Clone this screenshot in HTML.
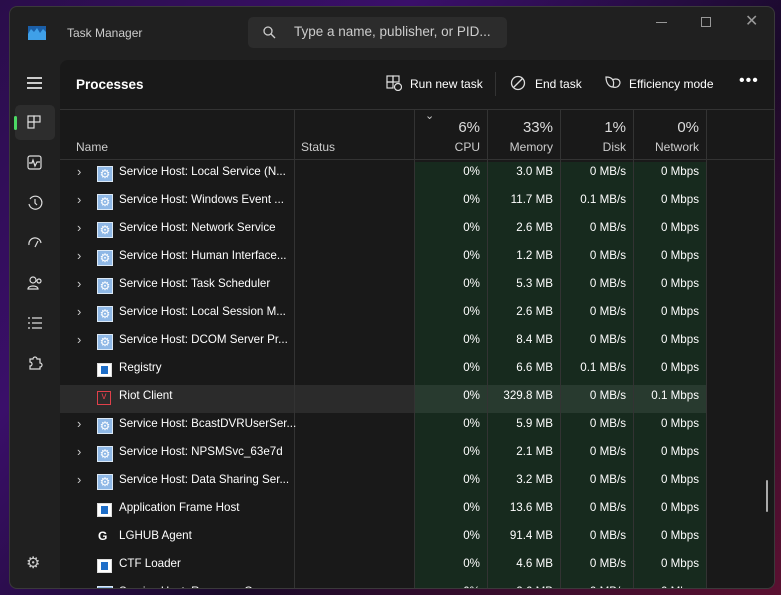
<!DOCTYPE html>
<html><head><meta charset="utf-8"><style>
*{margin:0;padding:0;box-sizing:border-box}
body{width:781px;height:595px;overflow:hidden;font-family:"Segoe UI","Liberation Sans",sans-serif;background:linear-gradient(135deg,#2a0d4a 0%,#3a0f6a 30%,#1a0a2a 60%,#5a1030 100%);position:relative;color:#fff}
.win{position:absolute;left:9px;top:6px;width:766px;height:583px;background:#202020;border-radius:8px;overflow:hidden;border:1px solid #3a3a3a}
.abs{position:absolute}
.panel{position:absolute;left:50px;top:53px;width:716px;height:540px;background:#191919;border-top-left-radius:8px}
.t{position:absolute;font-size:11.6px;white-space:nowrap}
.g{position:absolute;top:102px;height:460px;background:#172a1e}
.vl{position:absolute;width:1px;background:#333}
</style></head><body>
<div class="win">
 <svg class="abs" style="left:18px;top:19px" width="18" height="14"><rect width="18" height="14" fill="#3fa0e8"/><path d="M0 8 L3 3 L6 6 L9 2 L12 7 L15 3 L18 6 V0 H0Z" fill="#1b5fa8"/></svg>
 <div class="t" style="left:57px;top:19px;color:#ccc;font-size:12px">Task Manager</div>
 <div class="abs" style="left:238px;top:10px;width:259px;height:31px;background:#2c2c2c;border-radius:5px"></div>
 <svg class="abs" style="left:253px;top:19px" width="13" height="13"><circle cx="5" cy="5" r="4" fill="none" stroke="#ccc" stroke-width="1.3"/><line x1="8" y1="8" x2="12" y2="12" stroke="#ccc" stroke-width="1.3"/></svg>
 <div class="t" style="left:284px;top:17px;color:#ccc;font-size:13.5px">Type a name, publisher, or PID...</div>
 <div class="abs" style="left:646px;top:15px;width:11px;height:1px;background:#999"></div>
 <div class="abs" style="left:691px;top:10px;width:10px;height:10px;border:1px solid #999"></div>
 <div class="t" style="left:735px;top:4px;color:#999;font-size:16px">✕</div>
 <div class="abs" style="left:17px;top:70px;width:15px;height:1.5px;background:#ccc;box-shadow:0 5px 0 #ccc,0 10px 0 #ccc"></div>
 <div class="abs" style="left:5px;top:98px;width:40px;height:35px;background:#2d2d2d;border-radius:5px"></div>
 <div class="abs" style="left:4px;top:109px;width:3px;height:14px;background:#4cd964;border-radius:2px"></div>
 <svg class="abs" style="left:17px;top:108px" width="15" height="15" fill="none" stroke="#ddd" stroke-width="1.2"><rect x="1" y="1" width="6" height="6"/><rect x="7" y="1" width="6" height="6"/><rect x="1" y="7" width="6" height="6"/></svg>
 <svg class="abs" style="left:17px;top:148px" width="16" height="16" fill="none" stroke="#ddd" stroke-width="1.2"><rect x="1" y="1" width="13" height="13" rx="2"/><path d="M2 8H5L6 5L8 11L10 7H13"/></svg>
 <svg class="abs" style="left:17px;top:188px" width="16" height="16" fill="none" stroke="#ddd" stroke-width="1.2"><path d="M3 4A6.5 6.5 0 1 1 2 9"/><path d="M8 4V8L10 10"/></svg>
 <svg class="abs" style="left:17px;top:228px" width="16" height="16" fill="none" stroke="#ddd" stroke-width="1.2"><path d="M2 10A6 6 0 0 1 14 8"/><path d="M8 12L11 6"/></svg>
 <svg class="abs" style="left:17px;top:268px" width="16" height="16" fill="none" stroke="#ddd" stroke-width="1.2"><circle cx="6" cy="5" r="3"/><path d="M1 14C1 10 11 10 11 14Z"/><circle cx="12" cy="6" r="2"/></svg>
 <svg class="abs" style="left:17px;top:308px" width="16" height="16" fill="none" stroke="#ddd" stroke-width="1.2"><path d="M1 3H3M5 3H15M1 8H3M5 8H15M1 13H3M5 13H15"/></svg>
 <svg class="abs" style="left:17px;top:348px" width="16" height="16" fill="none" stroke="#ddd" stroke-width="1.2"><path d="M3 4H6A2 2 0 0 1 10 4H13V8A2 2 0 0 1 13 12V14H3V11A2 2 0 0 0 3 7Z"/></svg>
 <div class="t" style="left:16px;top:546px;color:#ccc;font-size:16px">⚙</div>
 <div class="panel">
  <div class="t" style="left:16px;top:17px;font-size:13.5px;font-weight:bold">Processes</div>
  <svg class="abs" style="left:326px;top:15px" width="16" height="16" fill="none" stroke="#ddd" stroke-width="1.2"><rect x="1" y="1" width="6" height="6"/><rect x="7" y="1" width="6" height="6"/><rect x="1" y="7" width="6" height="6"/><circle cx="12" cy="12" r="3.5" fill="#191919"/></svg>
  <div class="t" style="left:350px;top:17px;font-size:12px">Run new task</div>
  <div class="abs" style="left:435px;top:12px;width:1px;height:24px;background:#333"></div>
  <svg class="abs" style="left:450px;top:15px" width="16" height="16" fill="none" stroke="#ddd" stroke-width="1.3"><circle cx="8" cy="8" r="6.5"/><line x1="3.5" y1="12.5" x2="12.5" y2="3.5"/></svg>
  <div class="t" style="left:475px;top:17px;font-size:12px">End task</div>
  <svg class="abs" style="left:544px;top:15px" width="18" height="16" fill="none" stroke="#ddd" stroke-width="1.2"><path d="M2 2C8 2 11 5 9 12C5 12 2 8 2 2Z"/><path d="M8 5C12 3 16 4 16 8C15 12 12 13 9 12"/></svg>
  <div class="t" style="left:569px;top:17px;font-size:12px">Efficiency mode</div>
  <div class="t" style="left:679px;top:12px;font-size:16px;letter-spacing:1px">•••</div>
  <div class="abs" style="left:0;top:49px;width:716px;height:1px;background:#333"></div>
  <div class="g" style="left:355px;width:291px"></div>
  <div class="abs" style="left:0;top:325px;width:646px;height:28px;background:#2b2b2b"></div>
  <div class="abs" style="left:355px;top:325px;width:291px;height:28px;background:#283a2f"></div>
  <div class="vl" style="left:234px;top:50px;height:510px"></div>
  <div class="vl" style="left:354px;top:50px;height:510px"></div>
  <div class="vl" style="left:427px;top:50px;height:510px"></div>
  <div class="vl" style="left:500px;top:50px;height:510px"></div>
  <div class="vl" style="left:573px;top:50px;height:510px"></div>
  <div class="vl" style="left:646px;top:50px;height:510px"></div>
  <div class="abs" style="left:0;top:99px;width:716px;height:1px;background:#333"></div>
  <div class="t" style="left:16px;top:80px;color:#ccc;font-size:12px">Name</div>
  <div class="t" style="left:241px;top:80px;color:#ccc;font-size:12px">Status</div>
  <div class="t" style="left:365px;top:49px;color:#ccc;font-size:11px">⌄</div>
  <div class="t" style="right:296px;top:59px;font-size:15px;color:#ddd">6%</div>
  <div class="t" style="right:296px;top:80px;color:#ccc;font-size:12px">CPU</div>
  <div class="t" style="right:223px;top:59px;font-size:15px;color:#ddd">33%</div>
  <div class="t" style="right:223px;top:80px;color:#ccc;font-size:12px">Memory</div>
  <div class="t" style="right:150px;top:59px;font-size:15px;color:#ddd">1%</div>
  <div class="t" style="right:150px;top:80px;color:#ccc;font-size:12px">Disk</div>
  <div class="t" style="right:77px;top:59px;font-size:15px;color:#ddd">0%</div>
  <div class="t" style="right:77px;top:80px;color:#ccc;font-size:12px">Network</div>
  <div class="abs" style="left:706px;top:420px;width:2px;height:32px;background:#aaa;border-radius:1px"></div>
  <div id="rows"></div>
 </div>
</div>
<script>
var d=[["Service Host: Local Service (N...",1,"g","3.0 MB","0 MB/s","0 Mbps"],
["Service Host: Windows Event ...",1,"g","11.7 MB","0.1 MB/s","0 Mbps"],
["Service Host: Network Service",1,"g","2.6 MB","0 MB/s","0 Mbps"],
["Service Host: Human Interface...",1,"g","1.2 MB","0 MB/s","0 Mbps"],
["Service Host: Task Scheduler",1,"g","5.3 MB","0 MB/s","0 Mbps"],
["Service Host: Local Session M...",1,"g","2.6 MB","0 MB/s","0 Mbps"],
["Service Host: DCOM Server Pr...",1,"g","8.4 MB","0 MB/s","0 Mbps"],
["Registry",0,"a","6.6 MB","0.1 MB/s","0 Mbps"],
["Riot Client",0,"r","329.8 MB","0 MB/s","0.1 Mbps"],
["Service Host: BcastDVRUserSer...",1,"g","5.9 MB","0 MB/s","0 Mbps"],
["Service Host: NPSMSvc_63e7d",1,"g","2.1 MB","0 MB/s","0 Mbps"],
["Service Host: Data Sharing Ser...",1,"g","3.2 MB","0 MB/s","0 Mbps"],
["Application Frame Host",0,"a","13.6 MB","0 MB/s","0 Mbps"],
["LGHUB Agent",0,"l","91.4 MB","0 MB/s","0 Mbps"],
["CTF Loader",0,"a","4.6 MB","0 MB/s","0 Mbps"],
["Service Host: Resource Gr...",1,"g","2.6 MB","0 MB/s","0 Mbps"]];
var h="";
d.forEach(function(r,i){var y=100+i*28;var ty=y+5;
if(r[1])h+='<div class="t" style="left:17px;top:'+(ty-1)+'px;color:#ccc;font-size:13px">›</div>';
var ic={g:'<div class="abs" style="left:37px;top:'+(y+6)+'px;width:16px;height:16px;background:#8fb8e6;border:1px solid #dbe8f5;color:#fff;font-size:12px;line-height:14px;text-align:center">⚙</div>',
a:'<div class="abs" style="left:37px;top:'+(y+7)+'px;width:15px;height:14px;background:#fff;border:1px solid #ddd"><div style="margin:2px 3px;height:8px;background:#1f6fc9"></div></div>',
r:'<div class="abs" style="left:37px;top:'+(y+7)+'px;width:14px;height:14px;border:1.5px solid #e0404a;color:#e0404a;font-size:10px;line-height:10px;text-align:center">v</div>',
l:'<div class="t" style="left:38px;top:'+ty+'px;font-weight:bold;font-size:12px">G</div>'}[r[2]];
h+=ic+'<div class="t" style="left:59px;top:'+ty+'px">'+r[0]+'</div>'+
'<div class="t" style="right:296px;top:'+ty+'px">0%</div>'+
'<div class="t" style="right:223px;top:'+ty+'px">'+r[3]+'</div>'+
'<div class="t" style="right:150px;top:'+ty+'px">'+r[4]+'</div>'+
'<div class="t" style="right:77px;top:'+ty+'px">'+r[5]+'</div>';});
document.getElementById("rows").innerHTML=h;
</script>
</body></html>
